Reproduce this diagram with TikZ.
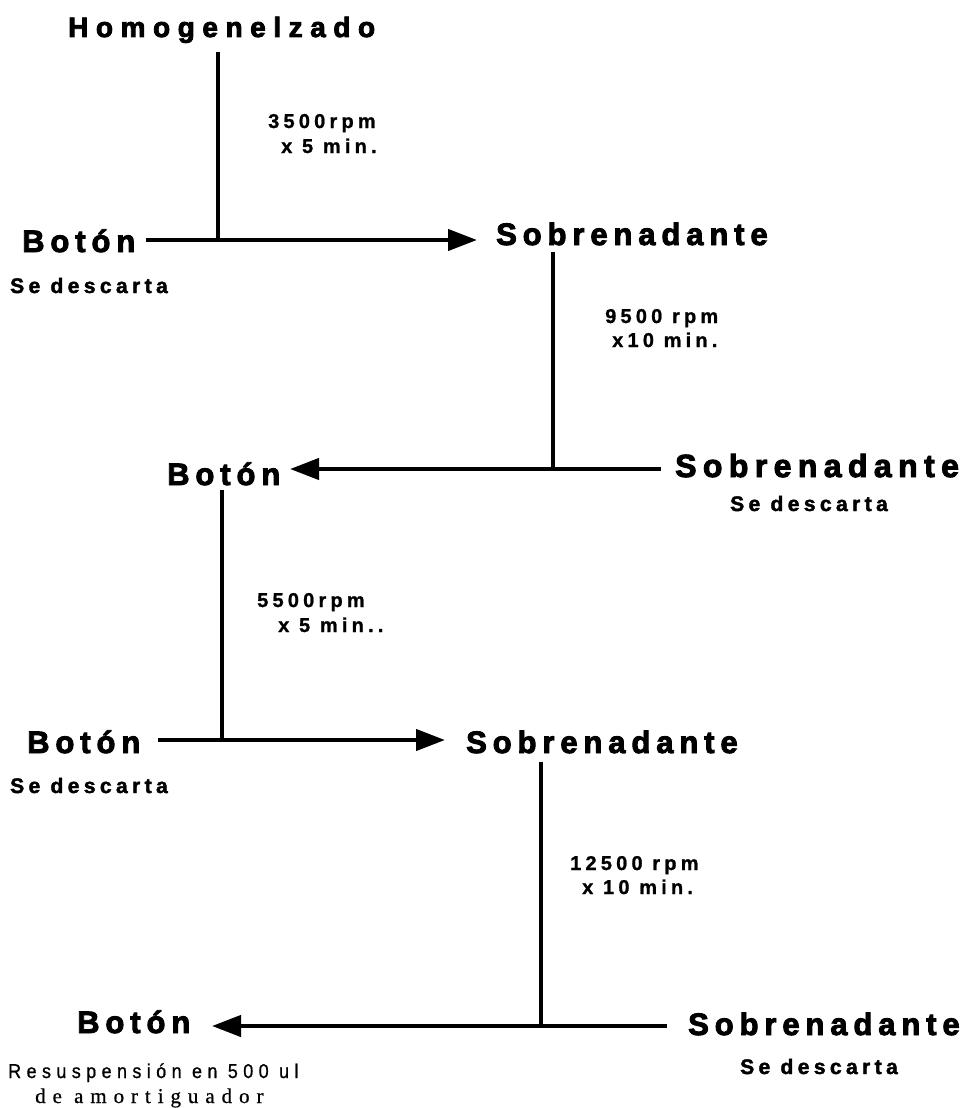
\documentclass[tikz,border=0pt]{standalone}
\usepackage{fontspec}
\usetikzlibrary{arrows.meta}
\newfontfamily\hdfont{Liberation Sans Bold}[LetterSpace=19,FakeBold=3]
\newfontfamily\hdbfont{Liberation Sans Bold}[LetterSpace=20,FakeBold=3]
\newfontfamily\homfont{Liberation Sans Bold}[LetterSpace=27,FakeBold=3]
\newfontfamily\smfont{Liberation Sans Bold}[LetterSpace=21,FakeBold=2]
\newfontfamily\rpmfont{Liberation Sans Bold}[LetterSpace=21,FakeBold=1]
\newfontfamily\resfont{Liberation Sans}[FakeStretch=0.9,LetterSpace=27,FakeBold=0.8]
\newfontfamily\amfont{Liberation Serif}[LetterSpace=33,FakeBold=0.6]
\tikzset{
  hd/.style={inner sep=0pt, anchor=base west, font=\hdfont\fontsize{31}{31}\selectfont},
  hdb/.style={inner sep=0pt, anchor=base west, font=\hdbfont\fontsize{32}{32}\selectfont},
  sm/.style={inner sep=0pt, anchor=base west, font=\smfont\fontsize{21}{21}\selectfont},
  rpm/.style={inner sep=0pt, anchor=base west, font=\rpmfont\fontsize{20}{20}\selectfont},
  hline/.style={line width=4.3pt},
  vline/.style={line width=3.4pt},
  arr/.style={hline, -{Triangle[length=29pt,width=21pt]}},
}
\begin{document}
\begin{tikzpicture}[x=1pt,y=-1pt]
\useasboundingbox[fill=white] (0,0) rectangle (966,1108);
% texts
\node[inner sep=0pt, anchor=base west, font=\homfont\fontsize{28}{28}\selectfont] (hom) at (68,37) {Homogenelzado};
\node[hd] (b1) at (22,252) {Botón};
\node[sm] (d1) at (10,293) {Se descarta};
\node[rpm] (r1a) at (268,128) {3500rpm};
\node[rpm] (r1b) at (281,153) {x 5 min.};
\node[hd] (s1) at (496,245) {Sobrenadante};
\node[rpm] (r2a) at (605,323) {9500 rpm};
\node[rpm] (r2b) at (612,347) {x10 min.};
\node[hd] (b2) at (167,485) {Botón};
\node[hdb] (s2) at (675,477) {Sobrenadante};
\node[sm] (d2) at (730,511) {Se descarta};
\node[rpm] (r3a) at (257,607) {5500rpm};
\node[rpm] (r3b) at (278,632) {x 5 min..};
\node[hd] (b3) at (27,753) {Botón};
\node[hd] (s3) at (466,753) {Sobrenadante};
\node[sm] (d3) at (10,793) {Se descarta};
\node[rpm] (r4a) at (570,870) {12500 rpm};
\node[rpm] (r4b) at (582,894) {x 10 min.};
\node[hd] (b4) at (77,1033) {Botón};
\node[hd] (s4) at (688,1035) {Sobrenadante};
\node[sm] (d4) at (740,1074) {Se descarta};
\node[inner sep=0pt, anchor=base west, font=\resfont\fontsize{20}{20}\selectfont] (res1) at (8,1078) {Resuspensión en 500 ul};
\node[inner sep=0pt, anchor=base west, font=\amfont\fontsize{21}{21}\selectfont] (res2) at (35,1103) {de amortiguador};
% connector points
\coordinate (v1t) at (218,52);   \coordinate (j1) at (218,240);
\coordinate (a1s) at (146,240);  \coordinate (a1e) at (477,240);
\coordinate (v2t) at (553,252);  \coordinate (j2) at (553,469);
\coordinate (a2s) at (661,469);  \coordinate (a2e) at (290,469);
\coordinate (v3t) at (222,490);  \coordinate (j3) at (222,740);
\coordinate (a3s) at (158,740);  \coordinate (a3e) at (445,740);
\coordinate (v4t) at (541,762);  \coordinate (j4) at (541,1026);
\coordinate (a4s) at (667,1026); \coordinate (a4e) at (212,1026);
% connectors
\draw[vline] (v1t) -- (j1);
\draw[arr] (a1s) -- (a1e);
\draw[vline] (v2t) -- (j2);
\draw[arr] (a2s) -- (a2e);
\draw[vline] (v3t) -- (j3);
\draw[arr] (a3s) -- (a3e);
\draw[vline] (v4t) -- (j4);
\draw[arr] (a4s) -- (a4e);
\end{tikzpicture}
\end{document}
